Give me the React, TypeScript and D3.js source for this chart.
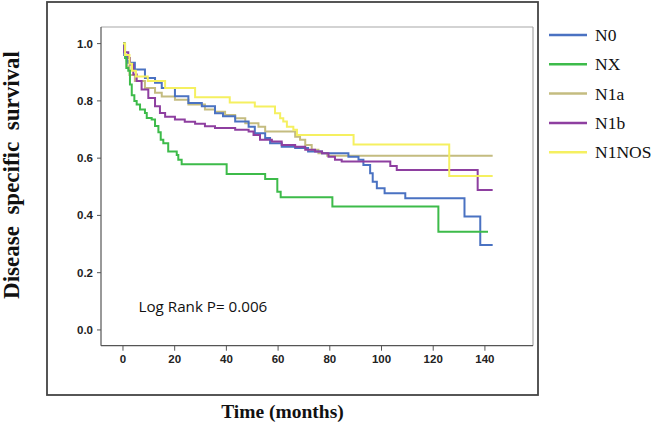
import React from "react";
import * as d3 from "d3";

const seriesNames = ["N0", "NX", "N1a", "N1b", "N1NOS"];
const seriesColors = ["#4a72c2", "#3dbb4a", "#c4bc80", "#8e3fa0", "#f5f060"];

const n0Times = [0, 0.5, 1.5, 2, 4.6, 8.5, 12.4, 15, 20.1, 25.3, 30.5, 35.6, 38.7, 43.4, 48.6, 51, 55, 56.9, 61.4, 66.6, 71.6, 77, 87.2, 91.1, 93, 95.6, 96.6, 98.2, 101.2, 109.2, 132.1, 138.2, 143];
const n0Surv = [1, 0.96, 0.94, 0.933, 0.91, 0.88, 0.863, 0.845, 0.816, 0.793, 0.781, 0.757, 0.746, 0.728, 0.71, 0.687, 0.67, 0.652, 0.64, 0.635, 0.623, 0.617, 0.605, 0.594, 0.576, 0.547, 0.518, 0.495, 0.477, 0.46, 0.396, 0.297, 0.297];

const nxTimes = [0, 0.8, 1.3, 2.05, 2.7, 3.4, 4.4, 5.3, 6.6, 8.5, 9.2, 11.1, 12.4, 13.7, 14.6, 15.6, 17.5, 20.8, 21.4, 22.7, 40.1, 55, 59.7, 61, 81, 122, 141.2];
const nxSurv = [1, 0.95, 0.915, 0.905, 0.857, 0.82, 0.8, 0.787, 0.77, 0.758, 0.74, 0.735, 0.712, 0.69, 0.664, 0.652, 0.623, 0.611, 0.594, 0.579, 0.545, 0.527, 0.483, 0.463, 0.431, 0.343, 0.343];

const n1aTimes = [0, 0.5, 1.5, 2.5, 4.6, 8.5, 12.4, 15, 20.1, 25.3, 31.7, 35.6, 39.5, 43.4, 47.3, 52.4, 55, 66.6, 68.5, 70.5, 73, 75.6, 79, 143];
const n1aSurv = [1, 0.96, 0.92, 0.89, 0.869, 0.845, 0.828, 0.815, 0.804, 0.787, 0.77, 0.762, 0.751, 0.739, 0.722, 0.71, 0.693, 0.675, 0.664, 0.646, 0.629, 0.617, 0.608, 0.608];

const n1bTimes = [0, 0.5, 2.05, 2.7, 4, 5.3, 7.2, 9.8, 12.4, 14.3, 16.3, 20.1, 23.9, 27.9, 31.7, 35.6, 43.4, 48.6, 50.5, 53, 57.6, 61.4, 66.6, 70.5, 74.3, 77, 79.5, 82, 84.6, 103.4, 105.9, 137.2, 143];
const n1bSurv = [1, 0.97, 0.95, 0.927, 0.892, 0.869, 0.84, 0.81, 0.781, 0.758, 0.745, 0.735, 0.727, 0.72, 0.711, 0.705, 0.699, 0.693, 0.681, 0.664, 0.658, 0.646, 0.64, 0.629, 0.623, 0.617, 0.605, 0.594, 0.588, 0.573, 0.559, 0.489, 0.489];

const n1nosTimes = [0, 0.8, 2.5, 3.5, 5, 9.6, 16.3, 27.9, 41.3, 51, 58.8, 60.8, 62, 63.4, 65.9, 67.3, 89.2, 126.2, 143];
const n1nosSurv = [1, 0.96, 0.93, 0.905, 0.885, 0.869, 0.845, 0.813, 0.794, 0.78, 0.757, 0.739, 0.728, 0.71, 0.699, 0.681, 0.648, 0.538, 0.538];

const xTicks = [0, 20, 40, 60, 80, 100, 120, 140];
const yTicks = [0, 0.2, 0.4, 0.6, 0.8, 1.0];

const seriesTimes = [n0Times, nxTimes, n1aTimes, n1bTimes, n1nosTimes];
const seriesSurv = [n0Surv, nxSurv, n1aSurv, n1bSurv, n1nosSurv];
const drawOrder = [2, 0, 3, 1, 4];

export default function App() {
  const W = 653, H = 425;
  const left = 101, right = 533, top = 27, bottom = 345.7;
  const x = d3.scaleLinear().domain([-8.5, 158.6]).range([left, right]);
  const y = d3.scaleLinear().domain([-0.055, 1.058]).range([bottom, top]);
  const line = d3
    .line<[number, number]>()
    .x((d) => x(d[0]))
    .y((d) => y(d[1]))
    .curve(d3.curveStepAfter);

  const tickFont = "'Liberation Sans', Arial, sans-serif";
  const serif = "'Liberation Serif', 'Times New Roman', serif";

  return (
    <svg
      width={W}
      height={H}
      style={{ position: "absolute", left: 0, top: 0, background: "#fff" }}
    >
      <rect x={0} y={0} width={W} height={H} fill="#fff" />
      {/* outer frame */}
      <rect x={47} y={2} width={491} height={393} fill="none" stroke="#444" strokeWidth={1.8} />
      {/* plot frame */}
      <line x1={left} x2={right} y1={top} y2={top} stroke="#a8a8a8" strokeWidth={1.2} />
      <line x1={right} x2={right} y1={top} y2={bottom} stroke="#a8a8a8" strokeWidth={1.2} />
      <line x1={left} x2={left} y1={top} y2={bottom} stroke="#555" strokeWidth={1.2} />
      <line x1={left} x2={right} y1={bottom} y2={bottom} stroke="#555" strokeWidth={1.2} />

      {yTicks.map((t) => (
        <g key={"y" + t}>
          <line x1={left - 4} x2={left} y1={y(t)} y2={y(t)} stroke="#555" strokeWidth={1} />
          <text
            x={93}
            y={y(t) + 4}
            textAnchor="end"
            fontFamily={tickFont}
            fontWeight="bold"
            fontSize={11.5}
            fill="#222"
          >
            {t.toFixed(1)}
          </text>
        </g>
      ))}
      {xTicks.map((t) => (
        <g key={"x" + t}>
          <line x1={x(t)} x2={x(t)} y1={bottom} y2={bottom + 5} stroke="#555" strokeWidth={1} />
          <text
            x={x(t)}
            y={363}
            textAnchor="middle"
            fontFamily={tickFont}
            fontWeight="bold"
            fontSize={11.5}
            fill="#222"
          >
            {t}
          </text>
        </g>
      ))}

      {drawOrder.map((i) => {
        const pts = seriesTimes[i].map((t, k) => [t, seriesSurv[i][k]] as [number, number]);
        return (
          <path
            key={seriesNames[i]}
            d={line(pts) || ""}
            fill="none"
            stroke={seriesColors[i]}
            strokeWidth={2}
          />
        );
      })}

      <text x={138.5} y={311.5} fontFamily="'Open Sans', sans-serif" fontSize={15.2} fill="#111">
        Log Rank P= 0.006
      </text>

      {/* axis titles */}
      <text
        transform={`translate(19,175) rotate(-90)`}
        textAnchor="middle"
        fontFamily={serif}
        fontWeight="bold"
        fontSize={23}
        fill="#111"
        style={{ whiteSpace: "pre" }}
      >
        {"Disease  specific  survival"}
      </text>
      <text
        x={282.5}
        y={418}
        textAnchor="middle"
        fontFamily={serif}
        fontWeight="bold"
        fontSize={19.5}
        fill="#111"
      >
        Time (months)
      </text>

      {/* legend */}
      {seriesNames.map((name, i) => {
        const ly = 35 + i * 29.3;
        return (
          <g key={"lg" + name}>
            <line x1={549} x2={587} y1={ly} y2={ly} stroke={seriesColors[i]} strokeWidth={2.5} />
            <text x={595} y={ly + 6} fontFamily={serif} fontSize={17.5} fill="#111">
              {name}
            </text>
          </g>
        );
      })}
    </svg>
  );
}
